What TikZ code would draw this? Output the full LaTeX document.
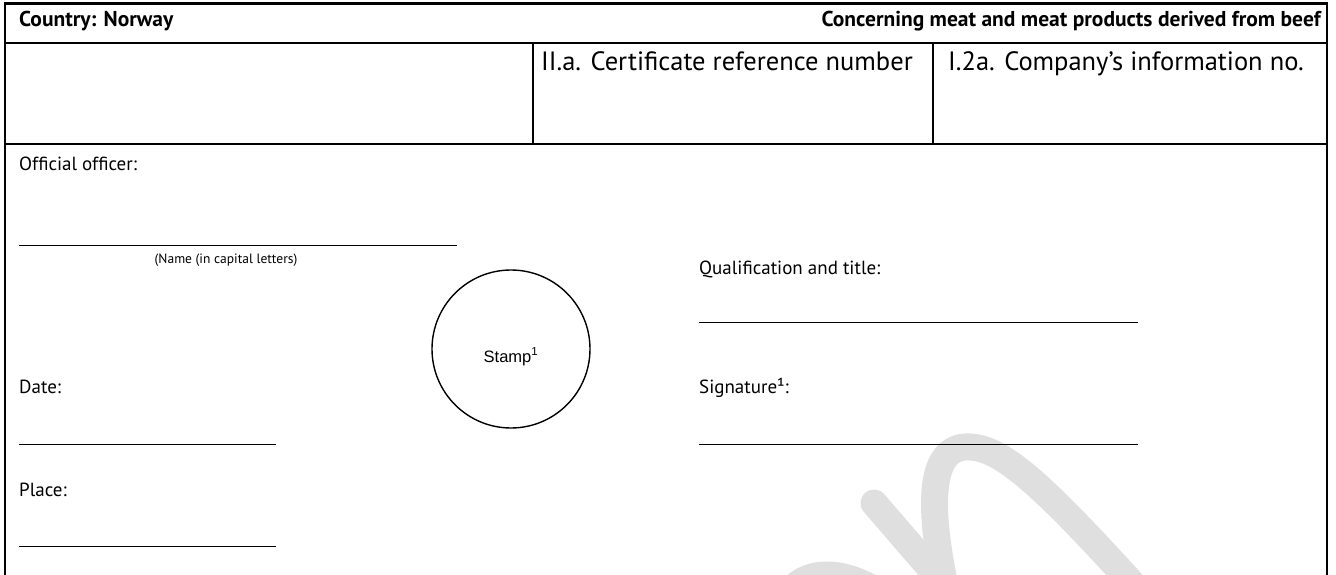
\documentclass[tikz,border=0pt]{standalone}
\usepackage{fontspec}
\setmainfont{PT Sans}
\newfontfamily\arialfont{Liberation Sans}
\definecolor{wm}{HTML}{DFDFDF}
\begin{document}
\begin{tikzpicture}[x=1pt,y=-1pt,
  hdr/.style={inner sep=0pt, font=\bfseries\fontsize{21.5}{24}\selectfont},
  cellhead/.style={anchor=base west, inner sep=0pt, font=\fontsize{26.5}{30}\selectfont},
  lbl/.style={anchor=base west, inner sep=0pt, font=\fontsize{19}{22}\selectfont},
  caption/.style={anchor=base, inner sep=0pt, font=\fontsize{13.5}{16}\selectfont},
  frame/.style={line width=2.6pt},
  rule/.style={line width=2pt},
  uline/.style={line width=1pt},
  wmark/.style={draw=wm, line width=27pt}
]
\useasboundingbox (0,0) rectangle (1336,575);
% watermark
\draw[wmark, line cap=round] (874,503) -- (968,612);
\draw[wmark] (948,600) .. controls (930,520) and (925,450) .. (965,447) .. controls (1000,445) and (1040,480) .. (1165,620);
\draw[wmark] (785,600) .. controls (798,572) and (835,565) .. (878,592);
% frame
\coordinate (tl) at (5,3.5);
\coordinate (tr) at (1327,3.5);
\coordinate (bl) at (5,580);
\coordinate (br) at (1327,580);
\draw[frame] (bl) -- (tl) -- (tr) -- (br);
\coordinate (h1l) at (5,43); \coordinate (h1r) at (1327,43);
\coordinate (h2l) at (5,144); \coordinate (h2r) at (1327,144);
\draw[rule] (h1l) -- (h1r);
\draw[rule] (h2l) -- (h2r);
\coordinate (v1t) at (533,43); \coordinate (v1b) at (533,144);
\coordinate (v2t) at (933,43); \coordinate (v2b) at (933,144);
\draw[rule] (v1t) -- (v1b);
\draw[rule] (v2t) -- (v2b);
% header texts
\node[hdr, anchor=base west] (country) at (19,27) {Country: Norway};
\node[hdr, anchor=base east] (concern) at (1321,27) {Concerning meat and meat products derived from beef};
\node[cellhead] (cert) at (541,71) {II.a. Certificate reference number};
\node[cellhead] (comp) at (948,71) {I.2a. Company’s information no.};
% left column
\node[lbl] (official) at (19,171) {Official officer:};
\coordinate (nl) at (19,245); \coordinate (nr) at (457,245);
\draw[uline] (nl) -- (nr);
\node[caption] (namecap) at (226,263) {(Name (in capital letters)};
\node[lbl] (date) at (19,393) {Date:};
\coordinate (dl) at (19,444); \coordinate (dr) at (276,444);
\draw[uline] (dl) -- (dr);
\node[lbl] (place) at (19,496) {Place:};
\coordinate (pl) at (19,546); \coordinate (pr) at (276,546);
\draw[uline] (pl) -- (pr);
% stamp
\node[circle, draw, line width=1.4pt, minimum size=158pt, inner sep=0pt] (stamp) at (511,349) {};
\node[anchor=base, inner sep=0pt, font=\arialfont\fontsize{16.5}{19}\selectfont] (stamptxt) at (511,362) {Stamp\textsuperscript{1}};
% right column
\node[lbl] (qual) at (699,274) {Qualification and title:};
\coordinate (ql) at (699,322); \coordinate (qr) at (1138,322);
\draw[uline] (ql) -- (qr);
\node[lbl] (sig) at (699,393) {Signature¹:};
\coordinate (sl) at (699,444); \coordinate (sr) at (1138,444);
\draw[uline] (sl) -- (sr);
\end{tikzpicture}
\end{document}
